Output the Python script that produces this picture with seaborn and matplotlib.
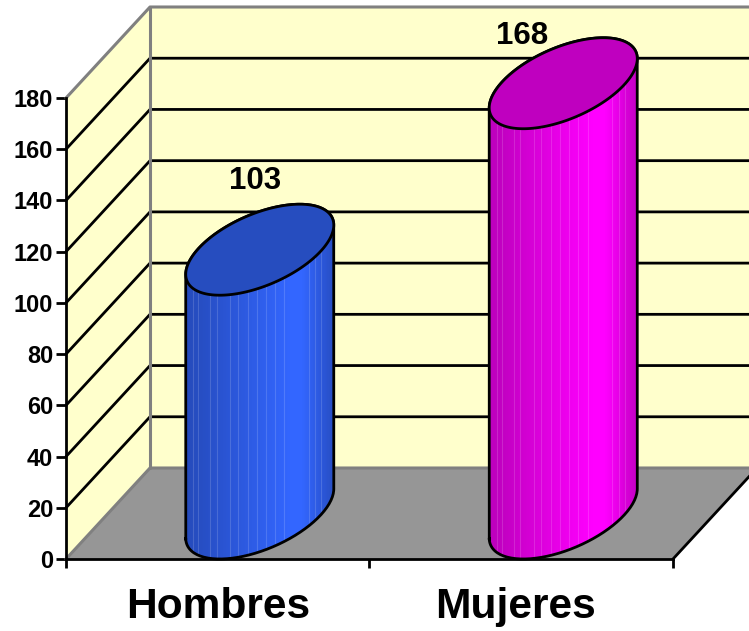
import numpy as np
import pandas as pd
import seaborn as sns
import matplotlib
matplotlib.use("Agg")
import matplotlib.pyplot as plt
from matplotlib.colors import ListedColormap, to_rgb
from matplotlib.patches import Polygon, PathPatch
from matplotlib.path import Path
from matplotlib.transforms import ScaledTranslation

categories = ["Hombres", "Mujeres"]
values = [103, 168]
bar_colors = ["#3366FF", "#FF00FF"]
y_ticks = list(range(0, 181, 20))

W, H = 749, 631
LEFT, RIGHT, BOTTOM, TOP = 66, 673, 559, 98   # plot-frame pixels
YMAX = 180
PX_X = (RIGHT - LEFT) / 2.0        # pixels per category
PX_Y = (BOTTOM - TOP) / YMAX       # pixels per value unit
DX = 84 / PX_X                     # chart depth in data units
DY = 91 / PX_Y
SKEW = 40 / PX_X                   # shear of the elliptical caps
BAR_WIDTH = 2 * 62.3 / PX_X
GRAY = "#808080"
LW = 2.0
label_offsets = [(-5, 8), (-41, -13)]       # data-label shift from cap top, px
category_shift_px = [0, -6]
stripe_fracs = [.05, .086, .165, .21, .30, .35, .42, .48, .54, .60, .666, .83, .875, .914]

sns.set_theme(style="white")
plt.rcParams["font.family"] = ["Liberation Sans", "DejaVu Sans"]
plt.rcParams["font.weight"] = "bold"

fig = plt.figure(figsize=(W / 100, H / 100), dpi=100, facecolor="white")
ax = fig.add_axes([LEFT / W, 1 - BOTTOM / H, (RIGHT - LEFT) / W, (BOTTOM - TOP) / H])
ax.patch.set_visible(False)

df = pd.DataFrame({"Sexo": categories, "Total": values})
sns.barplot(data=df, x="Sexo", y="Total", hue="Sexo", palette=bar_colors, width=BAR_WIDTH,
            saturation=1, legend=False, ax=ax)
bars = sorted(list(ax.patches), key=lambda p: p.get_x())
x0, x1 = -0.5, 1.5
ax.set_xlim(x0, x1)
ax.set_ylim(0, YMAX)

# walls and floor
wall = "#FFFFCC"
ax.add_patch(Polygon([(x0 + DX, DY), (x1 + DX, DY), (x1 + DX, YMAX + DY), (x0 + DX, YMAX + DY)],
                     fc=wall, ec="none", clip_on=False, zorder=0.5))
ax.add_patch(Polygon([(x0, 0), (x0 + DX, DY), (x0 + DX, YMAX + DY), (x0, YMAX)],
                     fc=wall, ec="none", clip_on=False, zorder=0.5))
ax.add_patch(Polygon([(x0, 0), (x1, 0), (x1 + DX, DY), (x0 + DX, DY)],
                     fc="#969696", ec="none", clip_on=False, zorder=0.6))
for v in y_ticks[1:-1]:
    ax.plot([x0, x0 + DX, x1 + DX], [v, v + DY, v + DY], color="black", lw=LW,
            clip_on=False, zorder=1, solid_joinstyle="miter")
gray_lines = [([x0, x0 + DX, x1 + DX], [YMAX, YMAX + DY, YMAX + DY]),
              ([x0 + DX, x0 + DX], [DY, YMAX + DY]),
              ([x0, x0 + DX, x1 + DX], [0, DY, DY])]
for xs, ys in gray_lines:
    ax.plot(xs, ys, color=GRAY, lw=LW + 0.2, clip_on=False, zorder=1.2)
ax.plot([x1, x1 + DX], [0, DY], color="black", lw=LW, clip_on=False, zorder=1.2)

half = BAR_WIDTH / 2


def cap(cx, cy, t):
    return np.column_stack([cx + half * np.cos(t) + SKEW * np.sin(t), cy + DY / 2 * np.sin(t)])


t0 = np.arctan2(SKEW, half)
extent = np.hypot(half, SKEW)
shade_t = np.linspace(0, 1, 256)
shade = np.interp(shade_t, [0, .08, .70, .78, 1], [.74, .76, 1, 1, .76])

for bar, val, (ox, oy) in zip(bars, values, label_offsets):
    base = np.array(to_rgb(bar.get_facecolor()[:3]))
    bar.set_alpha(0)
    cx = bar.get_x() + bar.get_width() / 2 + DX / 2
    by, ty = DY / 2, val + DY / 2
    low = np.linspace(t0 + np.pi, t0 + 2 * np.pi, 80)
    up = np.linspace(t0, t0 + np.pi, 80)
    outline = np.vstack([cap(cx, by, low), cap(cx, ty, up)])
    closed = np.vstack([outline, outline[:2]])
    body = PathPatch(Path(np.vstack([outline, outline[:1]]), closed=True), fc="none", ec="none",
                     clip_on=False, transform=ax.transData, zorder=3)
    ax.add_patch(body)
    cmap = ListedColormap(np.outer(shade, base))
    img = ax.imshow(shade_t[None, :], cmap=cmap, aspect="auto", vmin=0, vmax=1, origin="lower",
                    extent=[cx - extent, cx + extent, 0, YMAX + DY], zorder=3, interpolation="nearest")
    img.set_clip_path(body)
    img.set_clip_box(fig.bbox)
    for f in stripe_fracs:
        sx = cx - extent + f * 2 * extent
        ln, = ax.plot([sx, sx], [0, YMAX + DY], color="white", alpha=0.15, lw=0.8, zorder=3.1)
        ln.set_clip_path(body)
        ln.set_clip_box(fig.bbox)
    ax.plot(*closed.T, color="black", lw=LW, zorder=3.5, clip_on=False,
            solid_joinstyle="round", solid_capstyle="round")
    lid = Polygon(cap(cx, ty, np.linspace(0, 2 * np.pi, 160)), closed=True, fc=base * 0.75,
                  ec="black", lw=LW, clip_on=False, zorder=4)
    ax.add_patch(lid)
    ax.annotate(str(val), (cx, ty + DY / 2), xytext=(ox * 0.72, oy * 0.72),
                textcoords="offset points", ha="center", va="bottom", fontsize=22.5,
                fontweight="bold", color="black", zorder=5, annotation_clip=False)

ax.set_xlabel("")
ax.set_ylabel("")
ax.set_yticks(y_ticks)
ax.set_yticklabels([str(v) for v in y_ticks], fontsize=17, fontweight="bold", color="black")
ax.set_xticks([x0, 0.5, x1])
ax.set_xticklabels([])
ax.set_xticks([0, 1], minor=True)
ax.set_xticklabels(categories, minor=True, fontsize=30.6, fontweight="bold", color="black")
ax.tick_params(axis="y", left=True, length=7.2, width=LW, color="black", pad=2)
ax.tick_params(axis="x", which="major", bottom=True, length=6.5, width=LW, color="black")
ax.tick_params(axis="x", which="minor", bottom=False, length=0, pad=20)
ax.set_ylim(0, YMAX)
ax.set_xlim(x0, x1)
sns.despine(ax=ax, top=True, right=True)
for s in ("left", "bottom"):
    ax.spines[s].set_color("black")
    ax.spines[s].set_linewidth(LW)
    ax.spines[s].set_zorder(2)
for label, shift in zip(ax.get_xticklabels(minor=True), category_shift_px):
    label.set_transform(label.get_transform() + ScaledTranslation(shift / 100, 0, fig.dpi_scale_trans))

fig.savefig("out.png", dpi=100)
